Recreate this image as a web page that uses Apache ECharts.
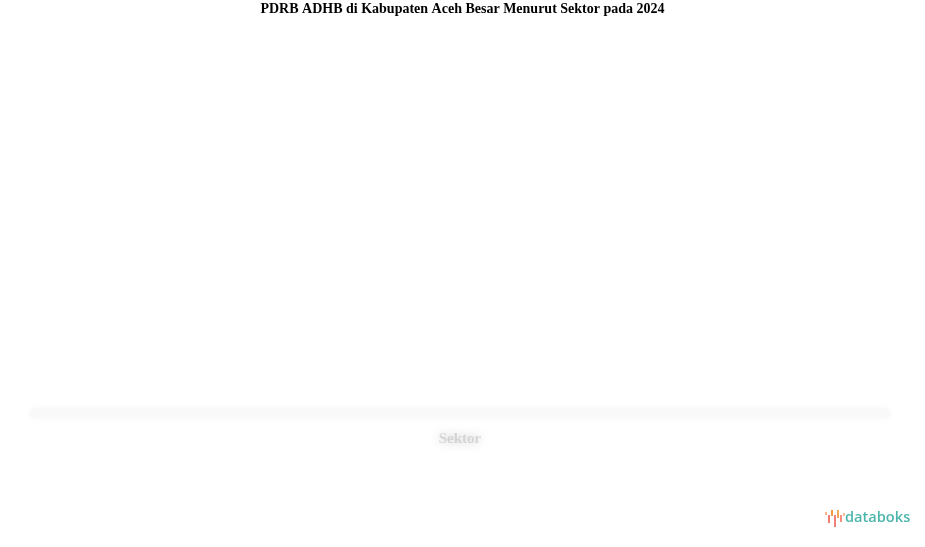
<!DOCTYPE html>
<html>
<head>
<meta charset="utf-8">
<script src="https://cdn.jsdelivr.net/npm/echarts@6/dist/echarts.min.js"></script>
<style>
html,body{margin:0;padding:0;background:#fff;}
#chart{width:925px;height:547px;}
</style>
</head>
<body>
<div id="chart"></div>
<script>
const titleText = 'PDRB ADHB di Kabupaten Aceh Besar Menurut Sektor pada 2024';
const categories = [];
const values = [];
const xAxisName = 'Sektor';

const chart = echarts.init(document.getElementById('chart'), null, {renderer: 'canvas'});

const iconBars = [
  {dx: 0, y: 512, h: 3, c: '#f6b48c'},
  {dx: 3, y: 515, h: 8, c: '#f27a6e'},
  {dx: 6, y: 510, h: 6, c: '#f29a4a'},
  {dx: 9, y: 515, h: 12, c: '#f2807a'},
  {dx: 12, y: 510, h: 8, c: '#f2a85a'},
  {dx: 15, y: 515, h: 7, c: '#f4907e'},
  {dx: 18, y: 513, h: 3, c: '#f6c09a'}
];

chart.setOption({
  animation: false,
  backgroundColor: '#ffffff',
  title: {
    text: titleText,
    left: 'center',
    top: 2,
    padding: 0,
    textStyle: {fontFamily: 'Liberation Serif', fontWeight: 'bold', fontSize: 14, color: '#000'}
  },
  grid: {left: 35, right: 40, top: 40, bottom: 134},
  xAxis: {
    type: 'category',
    data: categories,
    name: xAxisName,
    nameLocation: 'middle',
    nameGap: 19,
    nameTextStyle: {
      fontFamily: 'Liberation Serif', fontWeight: 'bold', fontSize: 15,
      color: 'rgba(160,160,160,0.35)',
      textShadowColor: 'rgba(110,110,110,1)', textShadowBlur: 10
    },
    axisLine: {show: true, lineStyle: {color: '#f9f9f9', width: 10, cap: 'round', shadowColor: '#f7f7f7', shadowBlur: 8}},
    axisTick: {show: false},
    axisLabel: {show: false}
  },
  yAxis: {type: 'value', show: false},
  series: [{type: 'bar', data: values}],
  graphic: iconBars.map(b => ({
    type: 'rect',
    shape: {x: 825 + b.dx, y: b.y, width: 2, height: b.h},
    style: {fill: b.c}
  })).concat([{
    type: 'text',
    left: 845,
    top: 510,
    style: {text: 'databoks', fill: '#4db6ac', font: '600 14.6px "Open Sans", sans-serif'}
  }])
});
</script>
</body>
</html>
